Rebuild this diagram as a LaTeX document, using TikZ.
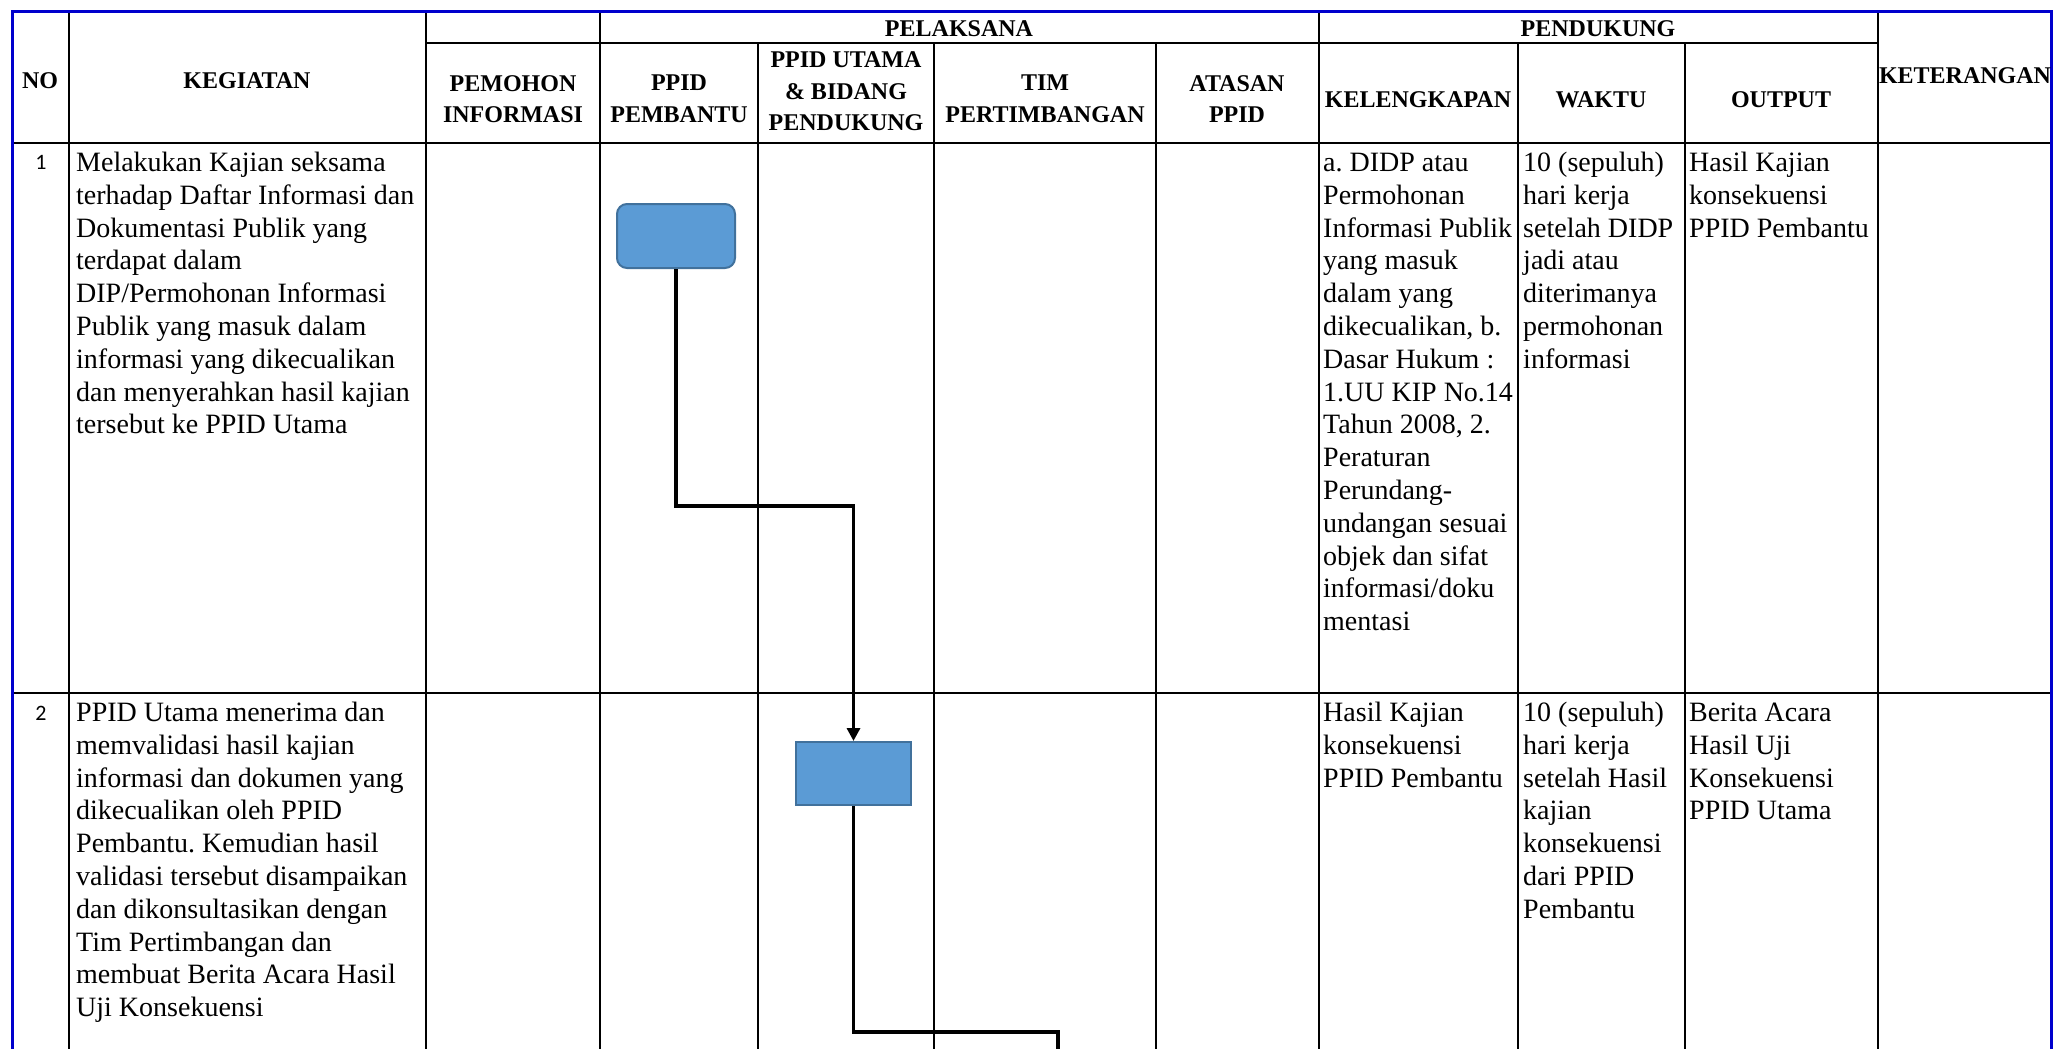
\documentclass[tikz,border=0pt]{standalone}
\usepackage{fontspec}
\setmainfont{Liberation Serif}
\newfontfamily\numfont{Carlito}
\usetikzlibrary{arrows.meta}
\frenchspacing

\definecolor{frameblue}{RGB}{0,0,205}
\definecolor{boxfill}{RGB}{91,155,213}
\definecolor{boxedge}{RGB}{65,113,156}

% text sizes (1 unit = 1pt)
\newcommand{\bodyfont}{\fontsize{28}{32.8}\selectfont}
\newcommand{\headfont}{\fontsize{24}{31.5}\selectfont\bfseries}
\newcommand{\cell}[2]{\parbox[t]{#1pt}{\bodyfont\raggedright #2}}

\tikzset{
  grid/.style={line width=2.6pt, black},
  frame/.style={line width=3pt, frameblue},
  head/.style={font=\headfont, align=center, inner sep=0pt},
  body/.style={anchor=base west, inner sep=0pt},
  rownum/.style={anchor=base, inner sep=0pt, font=\numfont\fontsize{22}{26}\selectfont},
  procbox/.style={draw=boxedge, fill=boxfill, line width=2pt, inner sep=0pt},
  conn/.style={line width=3.2pt, black},
}

\begin{document}
\begin{tikzpicture}[x=1pt, y=-1pt]
\useasboundingbox (0,0) rectangle (2054,1049);
\fill[white] (0,0) rectangle (2054,1049);

% table grid
\draw[grid] (426,43) -- (1878,43);
\draw[grid] (12,143) -- (2051,143);
\draw[grid] (12,693) -- (2051,693);
\foreach \xx in {69,426,600,1319,1878}
  \draw[grid] (\xx,12) -- (\xx,1055);
\foreach \xx in {758,934,1156,1518,1685}
  \draw[grid] (\xx,43) -- (\xx,1055);
\draw[frame] (12,1055) -- (12,12) -- (2051,12) -- (2051,1055);

% header
\node[head] (hno)   at (40,81)     {NO};
\node[head] (hkeg)  at (247,81)    {KEGIATAN};
\node[head] (hpel)  at (959,29)    {PELAKSANA};
\node[head] (hpen)  at (1598,29)   {PENDUKUNG};
\node[head] (hpem)  at (513,99)    {PEMOHON\\INFORMASI};
\node[head] (hpb)   at (679,99)    {PPID\\PEMBANTU};
\node[head] (hut)   at (846,91.5)  {PPID UTAMA\\\& BIDANG\\PENDUKUNG};
\node[head] (htim)  at (1045,99)   {TIM\\PERTIMBANGAN};
\node[head] (hat)   at (1237,99)   {ATASAN\\PPID};
\node[head] (hkel)  at (1418,100)  {KELENGKAPAN};
\node[head] (hwak)  at (1601,100)  {WAKTU};
\node[head] (hout)  at (1781,100)  {OUTPUT};
\node[head] (hket)  at (1965,76)   {KETERANGAN};

% row 1
\node[rownum] (n1) at (41,169) {1};
\node[body] (kg1) at (76,171.5) {\cell{345}{Melakukan Kajian seksama\\
terhadap Daftar Informasi dan\\
Dokumentasi Publik yang\\
terdapat dalam\\
DIP/Permohonan Informasi\\
Publik yang masuk dalam\\
informasi yang dikecualikan\\
dan menyerahkan hasil kajian\\
tersebut ke PPID Utama}};
\node[body] (kl1) at (1323,171.5) {\cell{195}{a. DIDP atau\\
Permohonan\\
Informasi Publik\\
yang masuk\\
dalam yang\\
dikecualikan, b.\\
Dasar Hukum :\\
1.UU KIP No.14\\
Tahun 2008, 2.\\
Peraturan\\
Perundang-\\
undangan sesuai\\
objek dan sifat\\
informasi/doku\\
mentasi}};
\node[body] (wk1) at (1523,171.5) {\cell{160}{10 (sepuluh)\\
hari kerja\\
setelah DIDP\\
jadi atau\\
diterimanya\\
permohonan\\
informasi}};
\node[body] (op1) at (1689,171.5) {\cell{185}{Hasil Kajian\\
konsekuensi\\
PPID Pembantu}};

% row 2
\node[rownum] (n2) at (41,720) {2};
\node[body] (kg2) at (76,721.5) {\cell{345}{PPID Utama menerima dan\\
memvalidasi hasil kajian\\
informasi dan dokumen yang\\
dikecualikan oleh PPID\\
Pembantu. Kemudian hasil\\
validasi tersebut disampaikan\\
dan dikonsultasikan dengan\\
Tim Pertimbangan dan\\
membuat Berita Acara Hasil\\
Uji Konsekuensi}};
\node[body] (kl2) at (1323,721.5) {\cell{195}{Hasil Kajian\\
konsekuensi\\
PPID Pembantu}};
\node[body] (wk2) at (1523,721.5) {\cell{160}{10 (sepuluh)\\
hari kerja\\
setelah Hasil\\
kajian\\
konsekuensi\\
dari PPID\\
Pembantu}};
\node[body] (op2) at (1689,721.5) {\cell{185}{Berita Acara\\
Hasil Uji\\
Konsekuensi\\
PPID Utama}};

% flow shapes
\node[procbox, rounded corners=10pt, minimum width=118pt, minimum height=64pt] (b1) at (676,236) {};
\node[procbox, minimum width=115pt, minimum height=63pt] (b2) at (853.5,773.5) {};
\coordinate (flowend) at (1058,1058);

% connectors
\draw[conn, -{Triangle[width=13pt,length=13pt]}] (b1.south) -- ++(0,237) -| (b2.north);
\draw[conn] (b2.south) -- ++(0,226) -| (flowend);
\end{tikzpicture}
\end{document}
